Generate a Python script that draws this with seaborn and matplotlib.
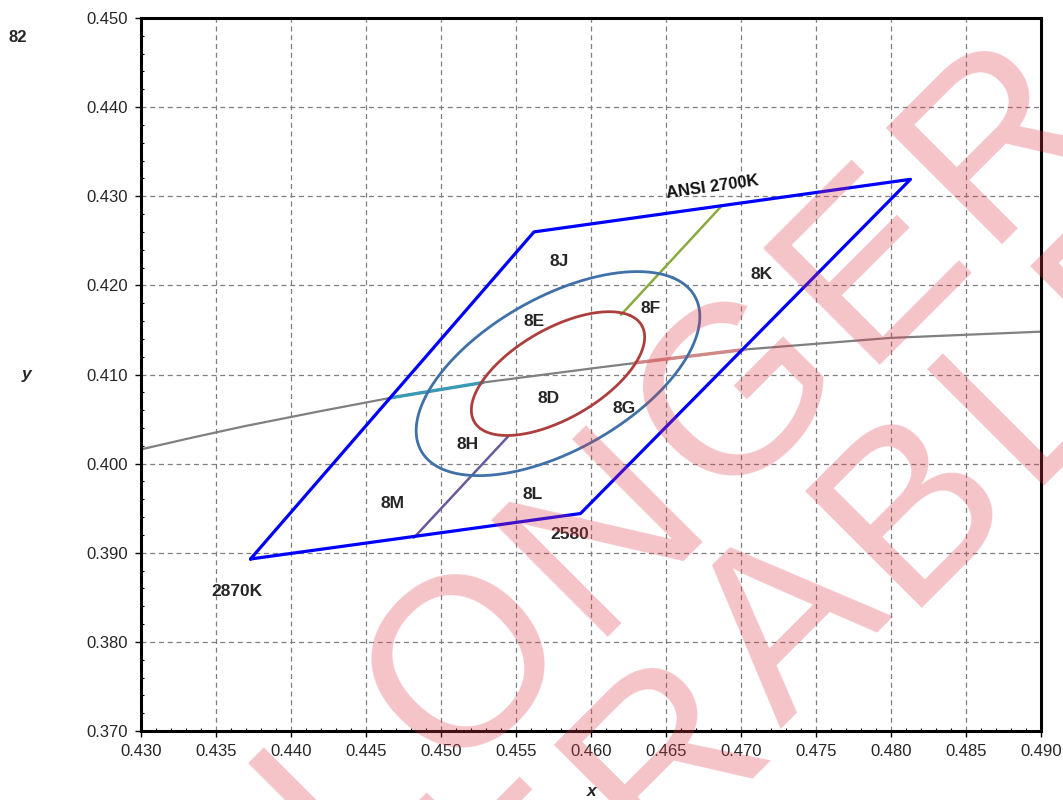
import matplotlib

matplotlib.use("Agg")
import matplotlib.pyplot as plt
import numpy as np
import pandas as pd
import seaborn as sns
from matplotlib.ticker import FormatStrFormatter, MultipleLocator

# ANSI 2700K quadrangle (closed)
quad_x = [0.4373, 0.4562, 0.4813, 0.4593, 0.4373]
quad_y = [0.3893, 0.4260, 0.4319, 0.3944, 0.3893]

# Planckian locus
locus_x = [0.4300, 0.4335, 0.4369, 0.4420, 0.4467, 0.4528, 0.4606, 0.4702, 0.4799, 0.4899, 0.4950]
locus_y = [0.4016, 0.40295, 0.4042, 0.4059, 0.4074, 0.4091, 0.4108, 0.4128, 0.4141, 0.4148, 0.4151]

# ellipses: centre, semi axes, tilt (deg)
ell_center = (0.4578, 0.4101)
inner_ab = (0.0081, 0.0040)
inner_theta = 53.7
outer_ab = (0.0132, 0.0068)
outer_theta = 54.5

# sub-bin divider segments
green_x, green_y = [0.4620, 0.4687], [0.4167, 0.4289]
purple_x, purple_y = [0.4545, 0.4482], [0.4031, 0.3917]
teal_x, teal_y = [0.4467, 0.4528], [0.4074, 0.4091]
pink_x, pink_y = [0.4629, 0.4702], [0.4113, 0.4128]

bin_labels = ["8J", "8E", "8D", "8G", "8H", "8M", "8L", "2580", "8F", "8K", "2870K"]
bin_x = [0.4579, 0.4562, 0.4572, 0.4622, 0.4518, 0.4468, 0.4561, 0.4586, 0.4640, 0.4714, 0.4364]
bin_y = [0.4227, 0.4159, 0.4073, 0.4062, 0.4021, 0.3955, 0.3965, 0.3921, 0.4174, 0.4212, 0.3857]

watermark_lines = ["NO LONGER", "ORDERABLE"]


def ellipse_pts(center, ab, theta_deg, n=361):
    t = np.linspace(0, 2 * np.pi, n)
    th = np.radians(theta_deg)
    a, b = ab
    x = center[0] + a * np.cos(t) * np.cos(th) - b * np.sin(t) * np.sin(th)
    y = center[1] + a * np.cos(t) * np.sin(th) + b * np.sin(t) * np.cos(th)
    return pd.DataFrame({"x": x, "y": y})


sns.set_theme(style="white")
plt.rcParams["font.family"] = ["Liberation Sans", "DejaVu Sans"]

W, H = 1063, 800
fig = plt.figure(figsize=(W / 100, H / 100), dpi=100)
ax = fig.add_axes([0.13264, 0.08625, 0.84666, 0.89125])


def line(xs, ys, color, lw, z=2):
    sns.lineplot(x=xs, y=ys, sort=False, estimator=None, color=color,
                 linewidth=lw, ax=ax, zorder=z)


line(locus_x, locus_y, "#808080", 1.6, z=2)
line(teal_x, teal_y, "#3a9ab5", 2.4, z=3)
line(pink_x, pink_y, "#d08888", 2.4, z=3)
line(green_x, green_y, "#8aab42", 1.8, z=3)
line(purple_x, purple_y, "#6b5a9a", 1.8, z=3)

outer = ellipse_pts(ell_center, outer_ab, outer_theta)
inner = ellipse_pts(ell_center, inner_ab, inner_theta)
sns.lineplot(data=outer, x="x", y="y", sort=False, estimator=None,
             color="#3f70a8", linewidth=2.0, ax=ax, zorder=4)
sns.lineplot(data=inner, x="x", y="y", sort=False, estimator=None,
             color="#ac3f3d", linewidth=2.0, ax=ax, zorder=4)

line(quad_x, quad_y, "#0000ff", 2.3, z=5)

for lab, lx, ly in zip(bin_labels, bin_x, bin_y):
    ax.text(lx, ly, lab, ha="center", va="center", fontsize=12.5,
            fontweight="bold", color="#262626", zorder=6)
ax.text(0.4681, 0.4310, "ANSI 2700K", ha="center", va="center", fontsize=12,
        fontweight="bold", color="#111111", rotation=8, zorder=6)

ax.set_xlim(0.430, 0.490)
ax.set_ylim(0.370, 0.450)
ax.xaxis.set_major_locator(MultipleLocator(0.005))
ax.xaxis.set_minor_locator(MultipleLocator(0.001))
ax.yaxis.set_major_locator(MultipleLocator(0.010))
ax.yaxis.set_minor_locator(MultipleLocator(0.002))
ax.xaxis.set_major_formatter(FormatStrFormatter("%.3f"))
ax.yaxis.set_major_formatter(FormatStrFormatter("%.3f"))
ax.grid(True, which="major", color="#7f7f7f", linestyle=(0, (4, 3)), linewidth=0.9)
ax.tick_params(which="major", direction="out", length=4.5, width=1, color="black",
               labelsize=12, labelcolor="#262626", pad=5,
               bottom=True, left=True)
ax.tick_params(which="minor", direction="in", length=2.5, width=0.8, color="black",
               bottom=True, left=True)
for sp in ax.spines.values():
    sp.set_color("black")
    sp.set_linewidth(2.2)
ax.set_xlabel("")
ax.set_ylabel("")

fig.text(27 / W, 1 - 375 / H, "y", ha="center", va="center", fontsize=12.5,
         fontweight="bold", fontstyle="italic", color="#262626")
fig.text(592 / W, 1 - 792 / H, "x", ha="center", va="center", fontsize=12.5,
         fontweight="bold", fontstyle="italic", color="#262626")
fig.text(18 / W, 1 - 37 / H, "82", ha="center", va="center", fontsize=12,
         fontweight="bold", color="#262626")

# watermark, laid out letter by letter along a 45 degree baseline
em = 240.0          # font size in pixels
track = 12.0        # extra letter spacing in pixels
adv = {"N": .722, "O": .778, " ": .278, "L": .556, "G": .778, "E": .667,
       "R": .722, "D": .722, "A": .667, "B": .667}
# (text, index of anchor letter, pixel origin of that letter)
anchors = [(watermark_lines[0], 8, (981.6, 243.6)),
           (watermark_lines[1], 6, (902.6, 607.6))]
d = np.array([np.sqrt(0.5), -np.sqrt(0.5)])
for text, k, org in anchors:
    offs = np.cumsum([0.0] + [adv[c] * em + track for c in text[:-1]])
    offs = offs - offs[k]
    for ch, o in zip(text, offs):
        if ch == " ":
            continue
        px, py = np.array(org) + o * d
        fig.text(px / W, 1 - py / H, ch, fontsize=em * 0.72, rotation=45,
                 rotation_mode="anchor", ha="left", va="baseline",
                 color="#dc3c4b", alpha=0.3, zorder=10)

fig.savefig("out.png", dpi=100)
plt.close(fig)
